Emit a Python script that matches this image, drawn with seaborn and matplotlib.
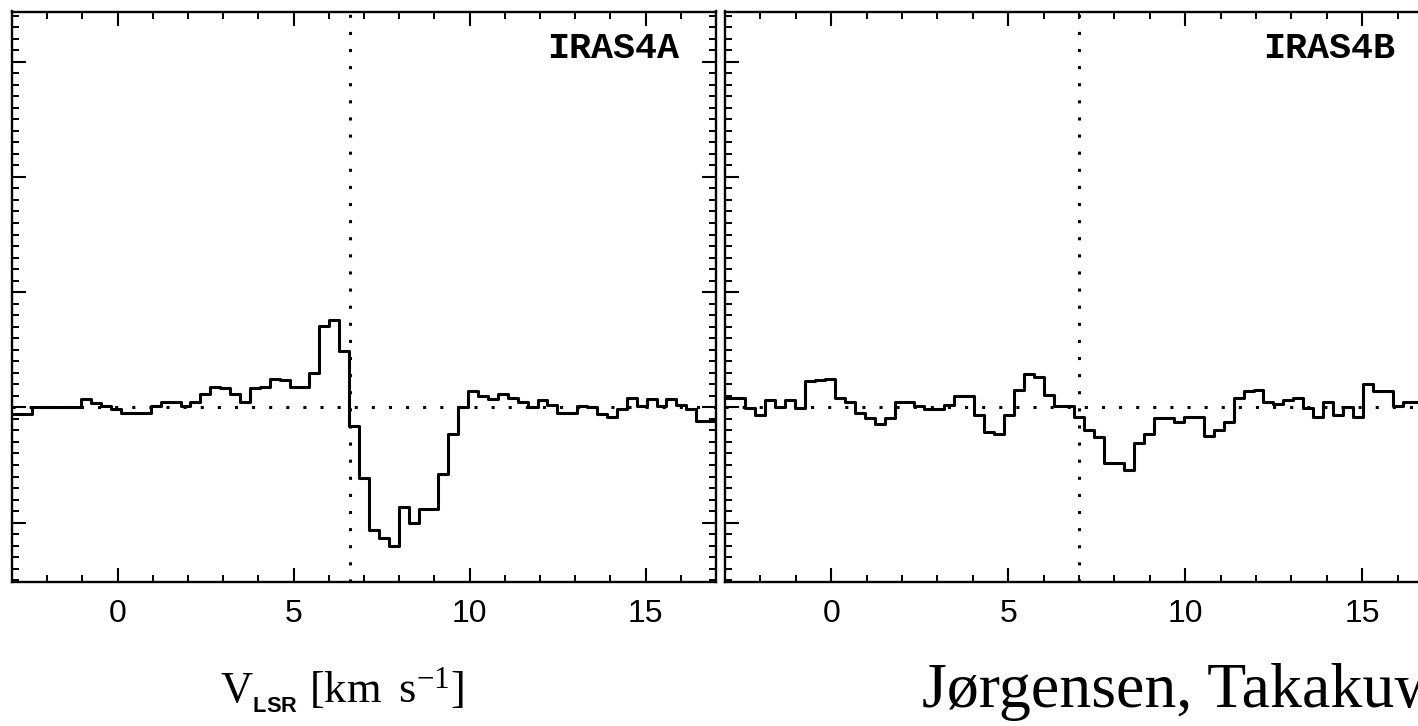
import numpy as np
import pandas as pd
import matplotlib
matplotlib.use("Agg")
import matplotlib.pyplot as plt
from matplotlib.ticker import MultipleLocator, NullFormatter
import seaborn as sns

# ---------------- data ----------------
# spectral channel grid (km/s)
V_START = -3.0
CHAN_WIDTH = 0.2817

# brightness (K) per channel
iras4a_T = [-0.012, -0.012, 0.000, 0.000, 0.000, 0.000, 0.000, 0.014, 0.007, 0.003,
            -0.003, -0.009, -0.009, -0.009, 0.003, 0.010, 0.010, 0.003, 0.009, 0.023,
            0.036, 0.033, 0.024, 0.009, 0.033, 0.036, 0.050, 0.047, 0.035, 0.035,
            0.059, 0.141, 0.151, 0.097, -0.033, -0.122, -0.212, -0.226, -0.241, -0.172,
            -0.200, -0.177, -0.177, -0.115, -0.047, 0.000, 0.028, 0.019, 0.014, 0.023,
            0.016, 0.009, 0.000, 0.012, 0.005, -0.009, -0.009, 0.003, 0.000, -0.012,
            -0.016, -0.003, 0.016, 0.003, 0.014, 0.002, 0.014, 0.005, -0.002, -0.023,
            -0.023, -0.023]
iras4b_T = [0.016, 0.016, -0.001, -0.013, 0.012, 0.000, 0.012, -0.001, 0.046, 0.047,
            0.049, 0.016, 0.010, -0.010, -0.019, -0.029, -0.019, 0.010, 0.010, 0.003,
            -0.002, -0.002, 0.005, 0.019, 0.019, -0.013, -0.042, -0.047, -0.013, 0.031,
            0.058, 0.052, 0.022, 0.002, 0.002, -0.016, -0.039, -0.052, -0.097, -0.097,
            -0.108, -0.062, -0.046, -0.019, -0.019, -0.026, -0.016, -0.016, -0.049, -0.039,
            -0.026, 0.016, 0.028, 0.031, 0.010, 0.006, 0.013, 0.016, -0.001, -0.016,
            0.010, -0.013, 0.000, -0.017, 0.040, 0.029, 0.029, 0.002, 0.009, 0.009,
            0.005, 0.000]

panel_names = ["IRAS4A", "IRAS4B"]
v_systemic = [6.6, 7.0]
x_ticks = [0, 5, 10, 15]
x_label = r"V$_{{}_{\mathbf{LSR}}}$ [km$\;\;$s$^{-1}$]"
credit = "Jørgensen, Takakuwa"

X_LIM = (-3.0, 17.0)
Y_LIM = (-0.303, 0.687)

# ---------------- style ----------------
sns.set_theme(style="ticks")
plt.rcParams["font.family"] = ["Liberation Sans", "DejaVu Sans"]
plt.rcParams["mathtext.fontset"] = "custom"
plt.rcParams["mathtext.rm"] = "Liberation Serif"
plt.rcParams["mathtext.it"] = "Liberation Serif:italic"
plt.rcParams["mathtext.bf"] = "Liberation Sans:bold"

n = len(iras4a_T)
v = V_START + CHAN_WIDTH * np.arange(n)
df = pd.concat([
    pd.DataFrame({"v": v, "T": iras4a_T, "source": "IRAS4A"}),
    pd.DataFrame({"v": v, "T": iras4b_T, "source": "IRAS4B"}),
], ignore_index=True)

W, H = 1418, 726
fig = plt.figure(figsize=(W / 100, H / 100), dpi=100)
fig.patch.set_facecolor("white")
ax_left = fig.add_axes([12 / W, 144 / H, 704 / W, 570.5 / H])
ax_right = fig.add_axes([725 / W, 144 / H, 708 / W, 570.5 / H])
axes = [ax_left, ax_right]

dot_style = (0, (1, 4.6))
for ax, name, vsys in zip(axes, panel_names, v_systemic):
    sub = df[df["source"] == name]
    sns.lineplot(data=sub, x="v", y="T", ax=ax, color="black", linewidth=2.2,
                 drawstyle="steps-post", estimator=None, legend=False)
    ax.axhline(0, color="black", lw=2.2, ls=dot_style, zorder=1)
    ax.axvline(vsys, color="black", lw=2.2, ls=dot_style, zorder=1)
    ax.set_xlim(*X_LIM)
    ax.set_ylim(*Y_LIM)
    ax.xaxis.set_major_locator(MultipleLocator(5))
    ax.xaxis.set_minor_locator(MultipleLocator(1))
    ax.yaxis.set_major_locator(MultipleLocator(0.2))
    ax.yaxis.set_minor_locator(MultipleLocator(0.02))
    ax.set_xticks(x_ticks)
    ax.tick_params(which="both", direction="in", top=True, bottom=True,
                   left=True, right=True, color="black")
    ax.tick_params(which="major", length=10, width=1.5)
    ax.tick_params(which="minor", length=5, width=1.4)
    ax.tick_params(axis="x", which="major", labelsize=23, pad=12, labelcolor="black")
    ax.yaxis.set_major_formatter(NullFormatter())
    ax.set_ylabel("")
    ax.set_xlabel("")
    for sp in ax.spines.values():
        sp.set_visible(True)
        sp.set_linewidth(1.7)
        sp.set_color("black")
    ax.set_facecolor("white")
    ax.text(0.947, 0.935, name, transform=ax.transAxes, ha="right", va="center",
            fontsize=26.5, fontweight="bold",
            family=["Liberation Mono", "DejaVu Sans Mono"], color="black")

ax_left.set_xlabel(x_label, fontsize=32, color="black", va="center",
                   family=["Liberation Serif", "DejaVu Serif"])
ax_left.xaxis.set_label_coords((342 - 12) / 704, -0.19)

fig.text(922 / W, (726 - 707) / H, credit, fontsize=46, color="black",
         family=["Liberation Serif", "DejaVu Serif"], ha="left", va="baseline")

fig.savefig("out.png", dpi=100, facecolor="white")
